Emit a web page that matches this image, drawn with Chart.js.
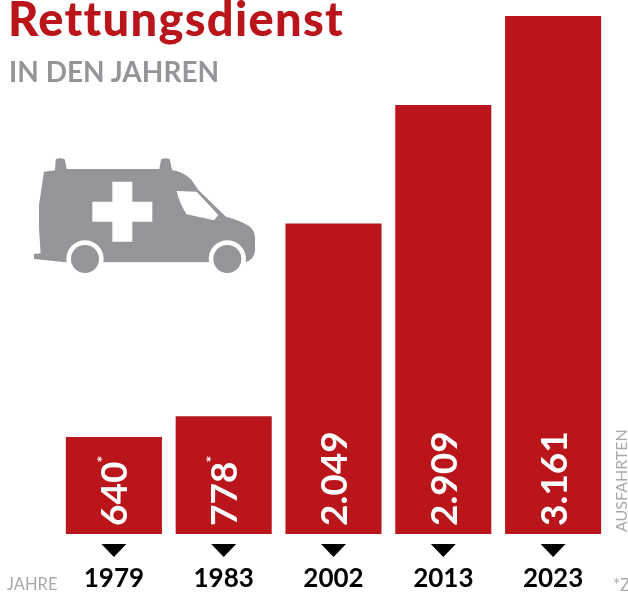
<!DOCTYPE html>
<html lang="de"><head><meta charset="utf-8">
<style>
html,body{margin:0;padding:0;background:#fff;overflow:hidden}
#wrap{position:relative;width:628px;height:593px;overflow:hidden;font-family:Lato,sans-serif}
canvas{position:absolute;left:0;top:0}
.t{position:absolute;white-space:nowrap;line-height:1}
#title{left:8px;top:-5px;font-size:47px;font-weight:900;letter-spacing:1.3px;color:#b9151b;font-variant-ligatures:none}
#sub{left:9px;top:57px;font-size:28px;font-weight:700;color:#939598}
#jahre{left:7px;top:576px;font-size:16.5px;color:#a7a9ac}
#note{left:613px;top:576px;font-size:17px;color:#a7a9ac}
#aus{left:613px;top:532px;font-size:16px;color:#a7a9ac;transform-origin:0 0;transform:rotate(-90deg)}
svg{position:absolute;left:20px;top:145px}
</style></head><body>
<div id="wrap">
<canvas id="c" width="628" height="593"></canvas>
<svg width="250" height="135" viewBox="0 0 750 405">
<path fill="#939598" d="M42 327L62 325L57 250L57 180L72 80L105 76L107 45Q108 40 120 40Q134 40 135 45L140 72L418 72L423 45Q424 40 437 40Q449 40 450 45L456 75Q490 80 515 105L535 135L618 215Q660 225 690 245Q705 258 705 280L705 320Q700 345 675 352L138 352L42 342Z"/>
<path fill="#fff" d="M470 138L530 140L595 210L582 226L500 208Q480 180 470 138Z"/>
<path fill="#fff" d="M277 110H337V170H397V230H337V290H277V230H217V170H277Z"/>
<circle cx="195" cy="342" r="56" fill="#fff"/><circle cx="622" cy="342" r="56" fill="#fff"/>
<rect x="0" y="353" width="750" height="52" fill="#fff"/>
<circle cx="195" cy="342" r="42" fill="#939598"/><circle cx="622" cy="342" r="42" fill="#939598"/>
</svg>
<div class="t" id="title">Rettungsdienst</div>
<div class="t" id="sub">IN DEN JAHREN</div>
<div class="t" id="jahre">JAHRE</div>
<div class="t" id="note">*Z</div>
<div class="t" id="aus">AUSFAHRTEN</div>
</div>
<script src="https://cdn.jsdelivr.net/npm/chart.js@4"></script>
<script>
const years = ["1979","1983","2002","2013","2023"];
// printed figures
const valueLabels = ["640","778","2.049","2.909","3.161"];
const starred = [true,true,false,false,false];
// drawn bar lengths as measured: the last two bars in the source are not to the scale of their printed figures
const barLengths = [640,778,2049,2832,3419];

const overlay = {
  id:'overlay',
  afterDatasetsDraw(chart){
    const {ctx} = chart, meta = chart.getDatasetMeta(0), xs = chart.scales.x;
    meta.data.forEach((bar,i)=>{
      ctx.save();
      ctx.translate(bar.x+1.5, bar.base-8);
      ctx.rotate(-Math.PI/2);
      ctx.fillStyle='#fff';
      ctx.font='700 37px Lato, sans-serif';
      ctx.textBaseline='middle';
      ctx.textAlign='left';
      ctx.fillText(valueLabels[i],0,0);
      if(starred[i]){
        const w=ctx.measureText(valueLabels[i]).width;
        ctx.font='700 16px Lato, sans-serif';
        ctx.fillText('*',w-1,-13);
      }
      ctx.restore();
      const x=xs.getPixelForTick(i);
      ctx.fillStyle='#000';
      ctx.beginPath();
      ctx.moveTo(x-12.5,544);ctx.lineTo(x+12.5,544);ctx.lineTo(x,557);ctx.closePath();
      ctx.fill();
    });
  }
};

new Chart(document.getElementById('c'),{
  type:'bar',
  data:{labels:years,datasets:[{data:barLengths,backgroundColor:'#b9151b',borderWidth:0,barPercentage:0.875,categoryPercentage:1}]},
  plugins:[overlay],
  options:{
    responsive:false,animation:false,
    layout:{padding:{left:59,right:20,top:0,bottom:0}},
    plugins:{legend:{display:false},tooltip:{enabled:false},title:{display:false}},
    scales:{
      x:{grid:{display:false},border:{display:false},
         afterFit(scale){scale.height=59;},
         ticks:{color:'#000',font:{family:'Lato, sans-serif',size:26,weight:'700'},padding:21,maxRotation:0}},
      y:{display:false,min:0,max:3525}
    }
  }
});
</script>
</body></html>
